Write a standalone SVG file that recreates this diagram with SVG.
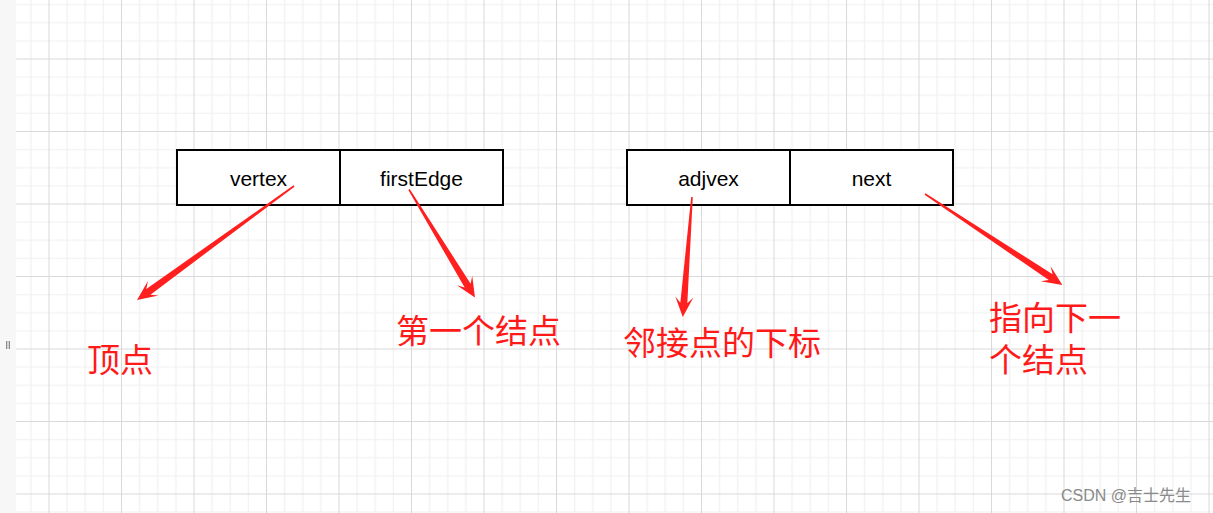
<svg xmlns="http://www.w3.org/2000/svg" width="1213" height="513" viewBox="0 0 1213 513">
  <style>
    .box { fill: #ffffff; stroke: #000000; stroke-width: 2; }
    .lbl { font-family: "Liberation Sans", Arial, sans-serif; font-size: 21px; fill: #000000; text-anchor: middle; }
    .note { font-family: "Noto Sans CJK SC", "Microsoft YaHei", sans-serif; font-size: 33px; fill: #ff1a1a; }
    .arr { fill: #ff1f1f; }
    .wm { font-family: "Liberation Sans", "Noto Sans CJK SC", sans-serif; font-size: 16px; fill: #8a8a8a; }
  </style>
  <defs>
    <pattern id="grid" patternUnits="userSpaceOnUse" x="48.5" y="58.5" width="72.5" height="72.5">
      <rect width="72.5" height="72.5" fill="#ffffff"/>
      <path d="M18.625 0V72.5M36.75 0V72.5M54.875 0V72.5M0 18.625H72.5M0 36.75H72.5M0 54.875H72.5" stroke="#efefef" stroke-width="1" fill="none"/>
      <path d="M0.5 0V72.5M0 0.5H72.5" stroke="#d9d9d9" stroke-width="1" fill="none"/>
    </pattern>
  </defs>
  <rect x="0" y="0" width="1213" height="513" fill="#f7f7f7"/>
  <rect x="16" y="0" width="1197" height="513" fill="url(#grid)"/>
  <rect x="6" y="341" width="1.3" height="8" fill="#888888"/>
  <rect x="8.7" y="341" width="1.3" height="8" fill="#888888"/>

  <g id="node-vertex">
    <rect class="box" x="177" y="150" width="163" height="55"/>
    <text class="lbl" x="258.5" y="186">vertex</text>
  </g>
  <g id="node-firstEdge">
    <rect class="box" x="340" y="150" width="163" height="55"/>
    <text class="lbl" x="421.5" y="186">firstEdge</text>
  </g>
  <g id="node-adjvex">
    <rect class="box" x="627" y="150" width="163" height="55"/>
    <text class="lbl" x="708.5" y="186">adjvex</text>
  </g>
  <g id="node-next">
    <rect class="box" x="790" y="150" width="163" height="55"/>
    <text class="lbl" x="871.5" y="186">next</text>
  </g>

  <g id="connectors">
    <polygon class="arr" transform="translate(294 186) rotate(144)" points="0,-0.8 180,-3.5 174,-9 194,0 174,9 180,3.5 0,0.8"/>
    <polygon class="arr" transform="translate(409 189.5) rotate(58.6)" points="0,-0.8 112.6,-3.5 106.6,-9 126.6,0 106.6,9 112.6,3.5 0,0.8"/>
    <polygon class="arr" transform="translate(692 197) rotate(94.4)" points="0,-0.8 106.4,-3.5 100.4,-9 120.4,0 100.4,9 106.4,3.5 0,0.8"/>
    <polygon class="arr" transform="translate(925 194) rotate(33.5)" points="0,-0.8 150.7,-3.5 144.7,-9 164.7,0 144.7,9 150.7,3.5 0,0.8"/>
  </g>

  <g id="label-vertex"><text class="note" x="87" y="372">顶点</text></g>
  <g id="label-firstEdge"><text class="note" x="396" y="343">第一个结点</text></g>
  <g id="label-adjvex"><text class="note" x="623" y="355">邻接点的下标</text></g>
  <g id="label-next">
    <text class="note" x="989" y="330">指向下一<tspan x="989" dy="42">个结点</tspan></text>
  </g>
  <text class="wm" x="1061" y="501">CSDN @吉士先生</text>
</svg>
